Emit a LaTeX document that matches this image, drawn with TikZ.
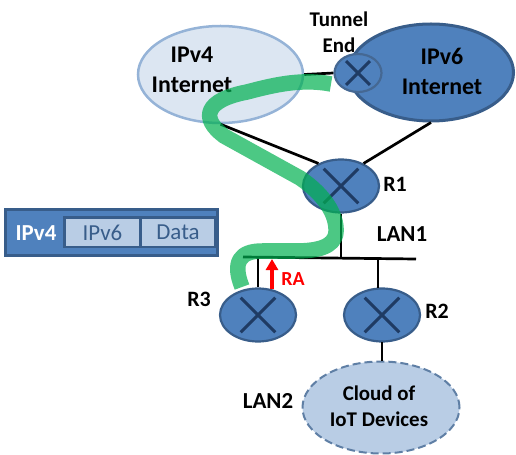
\documentclass[tikz,border=0pt]{standalone}
\usepackage{fontspec}
\setmainfont{Carlito}
\usepackage{xcolor}
\usetikzlibrary{shapes.geometric, positioning, arrows.meta, calc}

\definecolor{blueA}{HTML}{4F81BD}
\definecolor{blueB}{HTML}{385D8A}
\definecolor{blueC}{HTML}{B9CDE5}
\definecolor{blueD}{HTML}{DCE6F2}
\definecolor{blueE}{HTML}{95B3D7}
\definecolor{crossblue}{HTML}{1F3B63}
\definecolor{bandgreen}{HTML}{00B050}

\tikzset{
    router/.style={ellipse, draw=blueB, fill=blueA, line width=2.2bp, inner sep=0pt, minimum width=76bp, minimum height=53bp},
    cloudbig/.style={ellipse, line width=2.5bp, inner sep=0pt, minimum width=165bp, minimum height=97bp},
    lbl/.style={font=\fontsize{22}{22}\selectfont\bfseries, inner sep=0pt},
    smalllbl/.style={font=\fontsize{21}{26}\selectfont\bfseries, align=center, inner sep=0pt},
    inetlbl/.style={font=\fontsize{24}{30}\selectfont\bfseries, align=center, inner sep=0pt},
    celltxt/.style={fill=blueC, font=\fontsize{23}{23}\selectfont, text=blueB, inner sep=0pt, minimum height=27bp},
    wire/.style={line width=2.7bp, black},
}

\begin{document}
\begin{tikzpicture}[x=1bp, y=-1bp, on grid]
    \useasboundingbox (0,0) rectangle (516,455);

    % clouds
    \node[cloudbig, draw=blueE, fill=blueD] (ipv4) at (220.5,74.5) {};
    \node[cloudbig, draw=blueB, line width=3bp, fill=blueA] (ipv6) at (431,72.5) {};
    \node[ellipse, draw=blueC!10!blueB, fill=blueA, line width=2.2bp, inner sep=0pt, minimum width=47bp, minimum height=38bp] (tun) at (358,73) {};
    \node[cloudbig, draw=blueB!70!blueC, dash pattern=on 8bp off 4bp, fill=blueC, line width=2bp, minimum width=157bp, minimum height=92bp] (iot) at (381,407.5) {};

    % routers
    \node[router] (r1) at (341,186) {};
    \node[router] (r3) at (258,315) {};
    \node[router, right=124bp of r3] (r2) {};

    \foreach \n in {r1, r2, r3, tun} {
        \draw[crossblue, line width=3bp] ($(\n)!.77!(\n.135)$) -- ($(\n)!.77!(\n.-45)$);
        \draw[crossblue, line width=3bp] ($(\n)!.77!(\n.45)$) -- ($(\n)!.77!(\n.-135)$);
    }

    % LAN1 bus
    \coordinate (lanleft) at (243,257);
    \coordinate (lanright) at (416,259);
    \coordinate (lanr1) at (341,258);
    \coordinate (lanr3) at (258,257);
    \coordinate (lanr2) at (378,259);
    \coordinate (r2top) at (378,288);
    \coordinate (r2low) at (382,342);
    \coordinate (iottop) at (382,361);
    \coordinate (ratip) at (272,259);
    \coordinate (rabase) at (272,289);

    \draw[wire] (lanleft) -- (lanright);
    \draw[wire] (ipv4.east) -- (tun.west);
    \draw[wire] (ipv4.south) -- (r1.135);
    \draw[wire] (ipv6.south) -- (r1.45);
    \draw[wire] (r1.south) -- (lanr1);
    \draw[wire] (lanr3) -- (r3.north);
    \draw[wire] (lanr2) -- (r2top);
    \draw[wire] (r2low) -- (iottop);
    \draw[-{Triangle[width=12bp,length=11bp]}, red, line width=3.2bp] (rabase) -- (ratip);

    % labels
    \node[inetlbl] (ipv4txt) at (192,70) {IPv4\\Internet};
    \node[inetlbl] (ipv6txt) at (442,71.5) {IPv6\\Internet};
    \node[smalllbl] (tuntxt) at (339,32) {Tunnel\\End};
    \node[smalllbl] (iottxt) at (379,406) {Cloud of\\IoT Devices};
    \node[lbl, right=54bp of r1, yshift=2bp] (r1txt) {R1};
    \node[lbl, right=55bp of r2, yshift=4bp] (r2txt) {R2};
    \node[lbl, left=59bp of r3, yshift=16bp] (r3txt) {R3};
    \node[lbl, red, font=\fontsize{20}{20}\selectfont\bfseries] (ratxt) at (293,279) {RA};
    \node[lbl, font=\fontsize{23}{23}\selectfont\bfseries] (lan1txt) at (402,234) {LAN1};
    \node[lbl, font=\fontsize{23}{23}\selectfont\bfseries] (lan2txt) at (268,401) {LAN2};

    % packet
    \node[draw=blueB, fill=blueA, line width=2.5bp, minimum width=212bp, minimum height=46bp, inner sep=0pt] (pkt) at (111.5,232.5) {};
    \node[fill=blueB, minimum width=154bp, minimum height=32bp, inner sep=0pt] (pktin) at (140,232) {};
    \node[celltxt, minimum width=73bp] (cellv6) at (102.5,232.5) {IPv6};
    \node[celltxt, minimum width=72bp, right=75.5bp of cellv6] (celldata) {Data};
    \node[lbl, white, font=\fontsize{23}{23}\selectfont\bfseries] (pkttxt) at (36,233) {IPv4};

    % tunnel path
    \coordinate (bandstart) at (331,84);
    \coordinate (bandend) at (242,287);
    \draw[bandgreen, opacity=.7, line width=15.5bp, line join=round]
        (bandstart) .. controls (300,78) and (270,86) .. (247,92)
        .. controls (205,100) and (200,118) .. (224,136)
        -- (300,178) .. controls (325,195) and (337,215) .. (336,232)
        .. controls (335,248) and (315,251) .. (295,251)
        -- (262,251) .. controls (240,251) and (232,262) .. (bandend);
\end{tikzpicture}
\end{document}
